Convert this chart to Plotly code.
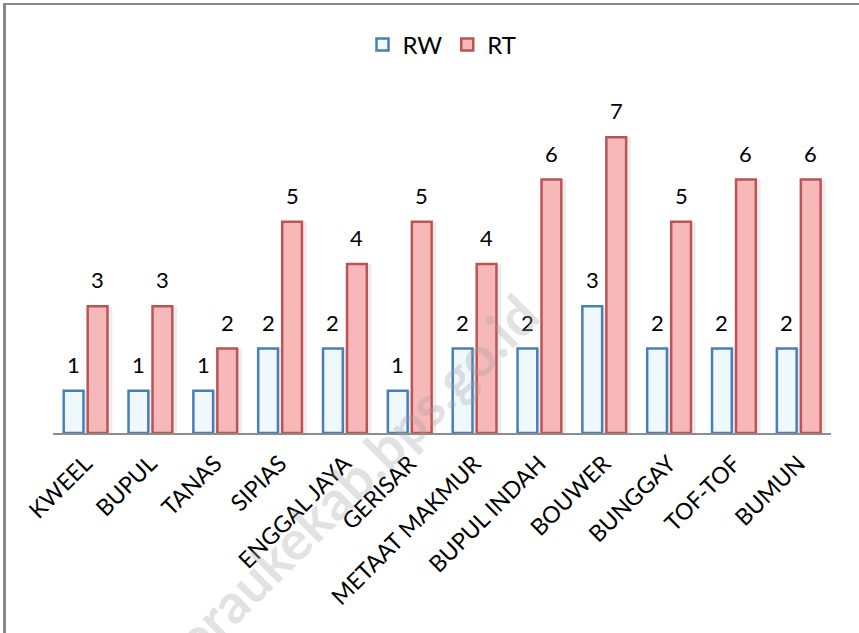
import plotly.graph_objects as go

categories = ["KWEEL", "BUPUL", "TANAS", "SIPIAS", "ENGGAL JAYA", "GERISAR",
              "METAAT MAKMUR", "BUPUL INDAH", "BOUWER", "BUNGGAY", "TOF-TOF", "BUMUN"]
rw_values = [1, 1, 1, 2, 2, 1, 2, 2, 3, 2, 2, 2]
rt_values = [3, 3, 2, 5, 4, 5, 4, 6, 7, 5, 6, 6]

FONT = "Lato, Carlito, Calibri, 'Open Sans', sans-serif"

W, H = 859, 633
L, R, T, B = 53, 28, 95, 200
plot_w = W - L - R
plot_h = H - T - B

# bar placement (in category units)
RW_OFF, RW_W = -0.335, 0.305
RT_OFF, RT_W = 0.035, 0.305
SH_SHIFT = 0.075

fig = go.Figure()
# soft shadows
for off, w, vals in [(RW_OFF, RW_W, rw_values), (RT_OFF, RT_W, rt_values)]:
    fig.add_trace(go.Bar(
        x=categories, y=vals, offset=off + SH_SHIFT, width=w,
        marker=dict(color="rgba(0,0,0,0.07)", line=dict(width=0)),
        showlegend=False, hoverinfo="skip",
    ))
fig.add_trace(go.Bar(
    name="RW", x=categories, y=rw_values, offset=RW_OFF, width=RW_W,
    marker=dict(color="#eef8fd", line=dict(color="#4a7ebb", width=2.5)),
))
fig.add_trace(go.Bar(
    name="RT", x=categories, y=rt_values, offset=RT_OFF, width=RT_W,
    marker=dict(color="#f6b8b8", line=dict(color="#bb5553", width=2.5)),
))

annotations = []
for i, (a, b) in enumerate(zip(rw_values, rt_values)):
    for off, w, v in [(RW_OFF, RW_W, a), (RT_OFF, RT_W, b)]:
        annotations.append(dict(
            x=i + off + w / 2, y=v, xref="x", yref="y", text=str(v),
            showarrow=False, yanchor="bottom", xanchor="center", yshift=11,
            font=dict(size=22, color="#000000", family=FONT)))


def px_x(px):
    return (px - L) / plot_w


def px_y(py):
    return (H - B - py) / plot_h


annotations.append(dict(
    text="<b>meraukekab.bps.go.id</b>", xref="paper", yref="paper",
    x=px_x(340), y=px_y(492), xanchor="center", yanchor="middle",
    showarrow=False, textangle=-45,
    font=dict(size=55, color="rgba(160,160,160,0.3)", family=FONT)))

fig.update_layout(
    width=W, height=H,
    margin=dict(l=L, r=R, t=T, b=B, autoexpand=False),
    paper_bgcolor="white", plot_bgcolor="white",
    barmode="overlay",
    font=dict(family=FONT, color="#000000"),
    legend=dict(orientation="h", x=0.5, xanchor="center",
                y=px_y(45), yanchor="middle",
                font=dict(size=24, family=FONT), itemwidth=30,
                bgcolor="rgba(0,0,0,0)"),
    xaxis=dict(showline=True, linecolor="#8c8c8c", linewidth=2,
               ticks="", tickangle=-45, tickfont=dict(size=23, family=FONT),
               ticklabelstandoff=6,
               showgrid=False, zeroline=False, range=[-0.5, 11.5]),
    yaxis=dict(range=[0, 8], visible=False, showgrid=False, zeroline=False),
    shapes=[
        dict(type="line", xref="paper", yref="paper",
             x0=px_x(3), x1=px_x(W + 5), y0=px_y(4), y1=px_y(4),
             line=dict(color="#8a8a8a", width=2)),
        dict(type="line", xref="paper", yref="paper",
             x0=px_x(4.5), x1=px_x(4.5), y0=px_y(3), y1=px_y(H + 5),
             line=dict(color="#8a8a8a", width=3)),
    ],
    annotations=annotations,
)

fig.write_html(
    "out.html",
    config={"displayModeBar": False},
    post_script="document.body.style.margin='0';document.body.style.overflow='hidden';",
)
